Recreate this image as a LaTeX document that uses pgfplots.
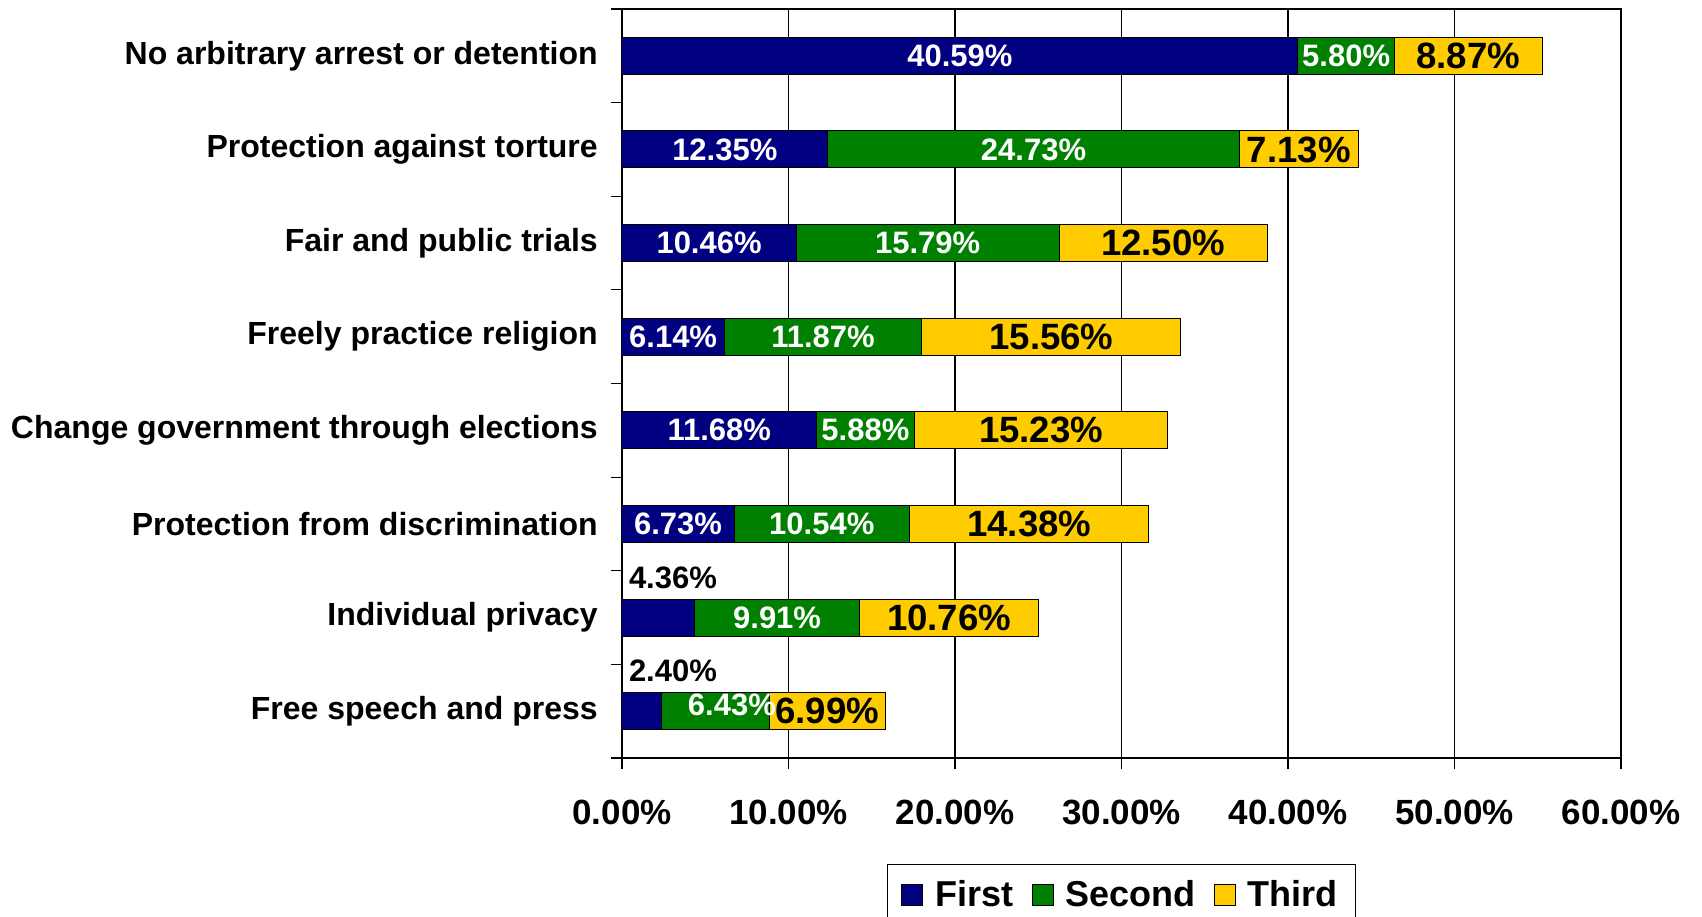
\documentclass[border=0pt]{standalone}
\usepackage{pgfplots}
\usepackage{pgfplotstable}
\pgfplotsset{compat=1.18}
\usepackage{fontspec}
\setmainfont{Liberation Sans}
\definecolor{cFirst}{HTML}{000080}
\definecolor{cSecond}{HTML}{008000}
\definecolor{cThird}{HTML}{FFCC00}

\pgfplotstableread{
y first second third
7 40.59 5.80 8.87
6 12.35 24.73 7.13
5 10.46 15.79 12.50
4 6.14 11.87 15.56
3 11.68 5.88 15.23
2 6.73 10.54 14.38
1 4.36 9.91 10.76
0 2.40 6.43 6.99
}\data

\newcommand\fW{\fontsize{15.5}{18}\selectfont\bfseries}
\newcommand\fT{\fontsize{18.3}{21}\selectfont\bfseries}

\begin{document}
\begin{tikzpicture}
\begin{axis}[name=ax, scale only axis, width=499.5pt, height=374.5pt,
  xbar stacked, bar width=18.5pt,
  xmin=0, xmax=60, ymin=-0.5, ymax=7.5,
  axis line style={black, line width=0.6pt},
  tick style={black, line width=0.6pt},
  tick align=outside, major tick length=5.5pt,
  xtick pos=left, ytick pos=left,
  xtick={0,10,20,30,40,50,60},
  xticklabels={0.00\%,10.00\%,20.00\%,30.00\%,40.00\%,50.00\%,60.00\%},
  xticklabel style={font=\fontsize{17.5}{20}\selectfont\bfseries, yshift=-11.8pt},
  xmajorgrids, grid style={black, line width=0.6pt},
  ytick={-0.5,0.5,1.5,2.5,3.5,4.5,5.5,6.5,7.5},
  yticklabels={},
  extra y ticks={0,1,2,3,4,5,6,7},
  extra y tick labels={Free speech and press, Individual privacy, Protection from discrimination, Change government through elections, Freely practice religion, Fair and public trials, Protection against torture, No arbitrary arrest or detention},
  extra y tick style={major tick length=0pt, yticklabel style={font=\fontsize{16}{19}\selectfont\bfseries, xshift=-8.6pt}},
  legend style={at={(0.5,0)}, anchor=north, yshift=-53pt, legend columns=3, draw=black, line width=0.6pt,
    font=\fontsize{18}{21}\selectfont\bfseries, inner xsep=7pt, inner ysep=6pt,
    /tikz/every odd column/.append style={column sep=4pt},
    /tikz/every even column/.append style={column sep=7pt}},
  sq/.style={legend image code/.code={\draw[##1, draw=black, line width=0.5pt] (0pt,-5.25pt) rectangle (10.5pt,5.25pt);}},
]
\addplot[fill=cFirst, draw=black, line width=0.5pt, sq] table[x=first,y=y]{\data};
\addplot[fill=cSecond, draw=black, line width=0.5pt, sq] table[x=second,y=y]{\data};
\addplot[fill=cThird, draw=black, line width=0.5pt, sq] table[x=third,y=y]{\data};
\legend{First,Second,Third}

\coordinate (a1) at (axis cs:20.295,7);
\coordinate (a2) at (axis cs:6.175,6);
\coordinate (a3) at (axis cs:5.23,5);
\coordinate (a4) at (axis cs:3.07,4);
\coordinate (a5) at (axis cs:5.84,3);
\coordinate (a6) at (axis cs:3.365,2);
\coordinate (a7) at (axis cs:3.06,1.42);
\coordinate (a8) at (axis cs:3.06,0.43);
\coordinate (b1) at (axis cs:43.49,7);
\coordinate (b2) at (axis cs:24.715,6);
\coordinate (b3) at (axis cs:18.355,5);
\coordinate (b4) at (axis cs:12.075,4);
\coordinate (b5) at (axis cs:14.62,3);
\coordinate (b6) at (axis cs:12.0,2);
\coordinate (b7) at (axis cs:9.315,1);
\coordinate (b8) at (axis cs:6.6,0.07);
\coordinate (c1) at (axis cs:50.825,7);
\coordinate (c2) at (axis cs:40.645,6);
\coordinate (c3) at (axis cs:32.5,5);
\coordinate (c4) at (axis cs:25.79,4);
\coordinate (c5) at (axis cs:25.175,3);
\coordinate (c6) at (axis cs:24.46,2);
\coordinate (c7) at (axis cs:19.65,1);
\coordinate (c8) at (axis cs:12.325,0);
\end{axis}
% First
\node[text=white, font=\fW] at (a1) {40.59\%};
\node[text=white, font=\fW] at (a2) {12.35\%};
\node[text=white, font=\fW] at (a3) {10.46\%};
\node[text=white, font=\fW] at (a4) {6.14\%};
\node[text=white, font=\fW] at (a5) {11.68\%};
\node[text=white, font=\fW] at (a6) {6.73\%};
\node[text=black, font=\fW] at (a7) {4.36\%};
\node[text=black, font=\fW] at (a8) {2.40\%};
% Second
\node[text=white, font=\fW] at (b1) {5.80\%};
\node[text=white, font=\fW] at (b2) {24.73\%};
\node[text=white, font=\fW] at (b3) {15.79\%};
\node[text=white, font=\fW] at (b4) {11.87\%};
\node[text=white, font=\fW] at (b5) {5.88\%};
\node[text=white, font=\fW] at (b6) {10.54\%};
\node[text=white, font=\fW] at (b7) {9.91\%};
% Third
\node[text=black, font=\fT] at (c1) {8.87\%};
\node[text=black, font=\fT] at (c2) {7.13\%};
\node[text=black, font=\fT] at (c3) {12.50\%};
\node[text=black, font=\fT] at (c4) {15.56\%};
\node[text=black, font=\fT] at (c5) {15.23\%};
\node[text=black, font=\fT] at (c6) {14.38\%};
\node[text=black, font=\fT] at (c7) {10.76\%};
\node[text=black, font=\fT] at (c8) {6.99\%};
\node[text=white, font=\fW] at (b8) {6.43\%};
\path (ax.south west) ++(-311pt,-79pt) coordinate (bbA);
\path (ax.north east) ++(40.5pt,4.5pt) coordinate (bbB);
\pgfresetboundingbox
\useasboundingbox (bbA) rectangle (bbB);
\end{tikzpicture}
\end{document}
